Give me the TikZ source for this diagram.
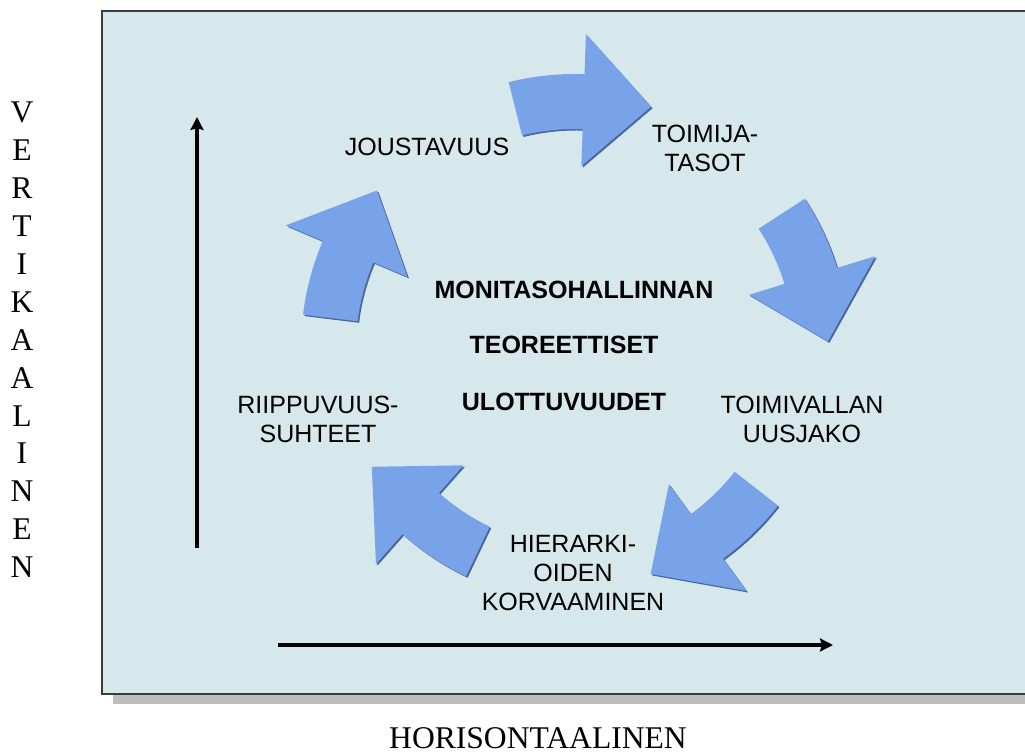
\documentclass[tikz,border=0pt]{standalone}
\usepackage{fontspec}
\setmainfont{Liberation Serif}
\newfontfamily\arialfont{Liberation Sans}
\usepackage{tikz}
\usetikzlibrary{arrows.meta,shadows,positioning}

\definecolor{boxfill}{RGB}{214,232,236}
\definecolor{boxline}{RGB}{60,60,60}
\definecolor{boxshadow}{RGB}{190,190,190}
\definecolor{circfill}{RGB}{121,163,232}
\definecolor{circedge}{RGB}{72,102,158}

% curved block arrow: centre x, centre y, tail angle
\newcommand{\circarrow}[3]{%
  \begin{scope}[shift={(#1,#2)}]
    \fill[circarrow] (#3:274pt) arc[start angle=#3, end angle=#3-16, radius=274pt]
      -- (#3-16:314pt) -- (#3-31.5:253pt) -- (#3-16:182pt) -- (#3-16:219pt)
      arc[start angle=#3-16, end angle=#3, radius=219pt] -- cycle;
  \end{scope}}

\begin{document}
\begin{tikzpicture}
[x=1pt,y=1pt,
frame/.style={draw=boxline,line width=1.5pt,fill=boxfill,drop shadow={shadow xshift=11pt,shadow yshift=-10pt,fill=boxshadow,opacity=1}},
circarrow/.style={fill=circfill,drop shadow={shadow xshift=1.5pt,shadow yshift=-1.5pt,fill=circedge,opacity=1}},
txt/.style={font=\arialfont\fontsize{25}{29}\selectfont,align=center,inner sep=0pt},
bold/.style={font=\arialfont\bfseries\fontsize{25}{29}\selectfont,inner sep=0pt},
axislabel/.style={font=\fontsize{31.6}{37.9}\selectfont,align=center,inner sep=0pt},
axis/.style={line width=3.5pt,-{Stealth[length=13pt,width=13pt,inset=2pt]}}]
\useasboundingbox (0,0) rectangle (1025,753);
\clip (0,0) rectangle (1025,753);
\fill[white] (0,0) rectangle (1025,753);

\draw[frame] (102,59) rectangle (1040,742);

\circarrow{575}{405}{104}
\circarrow{575}{405}{33}
\circarrow{562}{416}{-38}
\circarrow{584}{424}{-115.5}
\circarrow{575}{405}{173}

\node[txt] (joust) at (427,606) {JOUSTAVUUS};
\node[txt] (toimija) at (705,605) {TOIMIJA-\\TASOT};
\node[txt] (toimivalta) at (802,334) {TOIMIVALLAN\\UUSJAKO};
\node[txt] (hierarkia) at (573,180) {HIERARKI-\\OIDEN\\KORVAAMINEN};
\node[txt] (riippuvuus) at (318,334) {RIIPPUVUUS-\\SUHTEET};

\node[bold] (moni) at (574,463) {MONITASOHALLINNAN};
\node[bold] (teor) at (564,408) {TEOREETTISET};
\node[bold] (ulott) at (564,351) {ULOTTUVUUDET};

\node[axislabel,anchor=north] (vert) at (22,651) {V\\E\\R\\T\\I\\K\\A\\A\\L\\I\\N\\E\\N};
\node[axislabel,anchor=base] (horiz) at (538,5) {HORISONTAALINEN};

\coordinate (vstart) at (197,205);
\coordinate (vend) at (197,636);
\coordinate (hstart) at (278,108);
\coordinate (hend) at (833,108);

\draw[axis] (vstart) -- (vend);
\draw[axis] (hstart) -- (hend);
\end{tikzpicture}
\end{document}
